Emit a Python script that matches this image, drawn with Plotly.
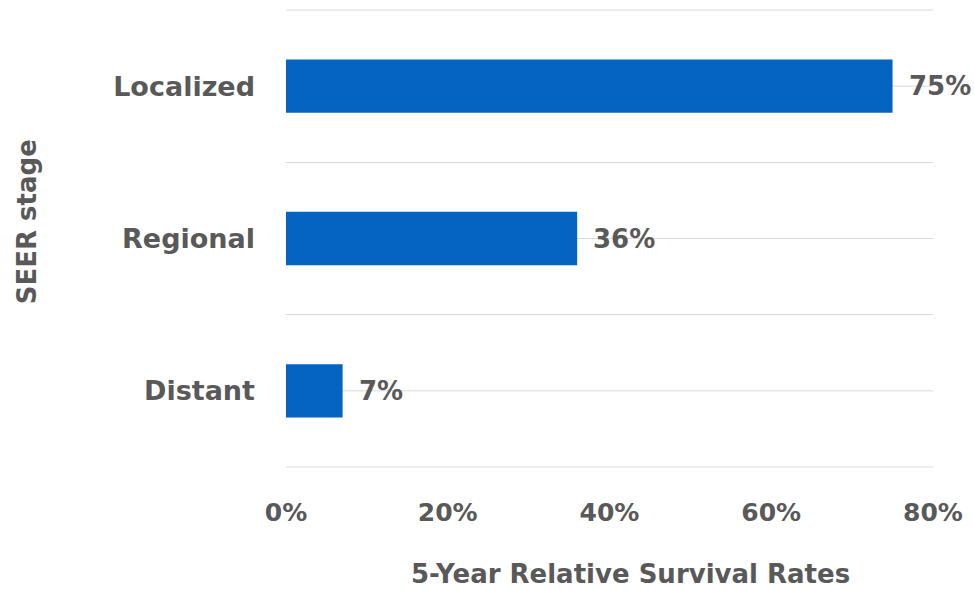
import plotly.graph_objects as go

stages = ["Localized", "Regional", "Distant"]
rates = [0.75, 0.36, 0.07]
x_ticks = [0, 0.2, 0.4, 0.6, 0.8]
x_tick_labels = ["0%", "20%", "40%", "60%", "80%"]

TXT = "#595959"
BAR = "#0563C1"
GRID = "#D9D9D9"
FONT = "DejaVu Sans"

fig = go.Figure()
fig.add_trace(go.Bar(
    x=rates, y=stages, orientation="h",
    marker=dict(color=BAR, line=dict(width=0)),
    hoverinfo="skip",
))

for s, v in zip(stages, rates):
    fig.add_annotation(
        x=v, y=s, text=f"<b>{v:.0%}</b>", showarrow=False,
        xanchor="left", yanchor="middle", xshift=14,
        font=dict(family=FONT, size=26, color=TXT),
    )
    fig.add_shape(
        type="line", xref="paper", x0=0, x1=1, y0=s, y1=s,
        line=dict(color=GRID, width=1), layer="below",
    )
# outer frame lines (top and bottom category boundaries)
for yp in (0, 1):
    fig.add_shape(
        type="line", xref="paper", yref="paper", x0=0, x1=1, y0=yp, y1=yp,
        line=dict(color=GRID, width=1), layer="below",
    )

# axis titles
fig.add_annotation(
    xref="paper", yref="paper", x=-0.40, y=0.536,
    text="<b>SEER stage</b>", textangle=-90, showarrow=False,
    xanchor="center", yanchor="middle",
    font=dict(family=FONT, size=26, color=TXT),
)
fig.add_annotation(
    xref="paper", yref="paper", x=0.533, y=-0.234,
    text="<b>5-Year Relative Survival Rates</b>", showarrow=False,
    xanchor="center", yanchor="middle", borderpad=0,
    font=dict(family=FONT, size=26, color=TXT),
)

fig.update_layout(
    width=974, height=590,
    margin=dict(l=286, r=41, t=10, b=123),
    paper_bgcolor="white", plot_bgcolor="white",
    bargap=0.65, showlegend=False,
    font=dict(family=FONT, color=TXT),
)
fig.update_xaxes(
    range=[0, 0.8], tickvals=x_ticks, ticktext=[f"<b>{t}</b>" for t in x_tick_labels],
    showgrid=False, zeroline=False, showline=False, automargin=False,
    tickfont=dict(family=FONT, size=25, color=TXT),
    ticklabelstandoff=28,
)
fig.update_yaxes(
    autorange="reversed", categoryorder="array", categoryarray=stages,
    tickson="boundaries", showgrid=True, gridcolor=GRID, gridwidth=1,
    zeroline=False, showline=False, ticks="", automargin=False,
    tickfont=dict(family=FONT, size=27, color=TXT),
    ticktext=[f"<b>{s}</b>" for s in stages], tickvals=stages,
    ticklabelstandoff=30,
)

fig.write_html("out.html")
